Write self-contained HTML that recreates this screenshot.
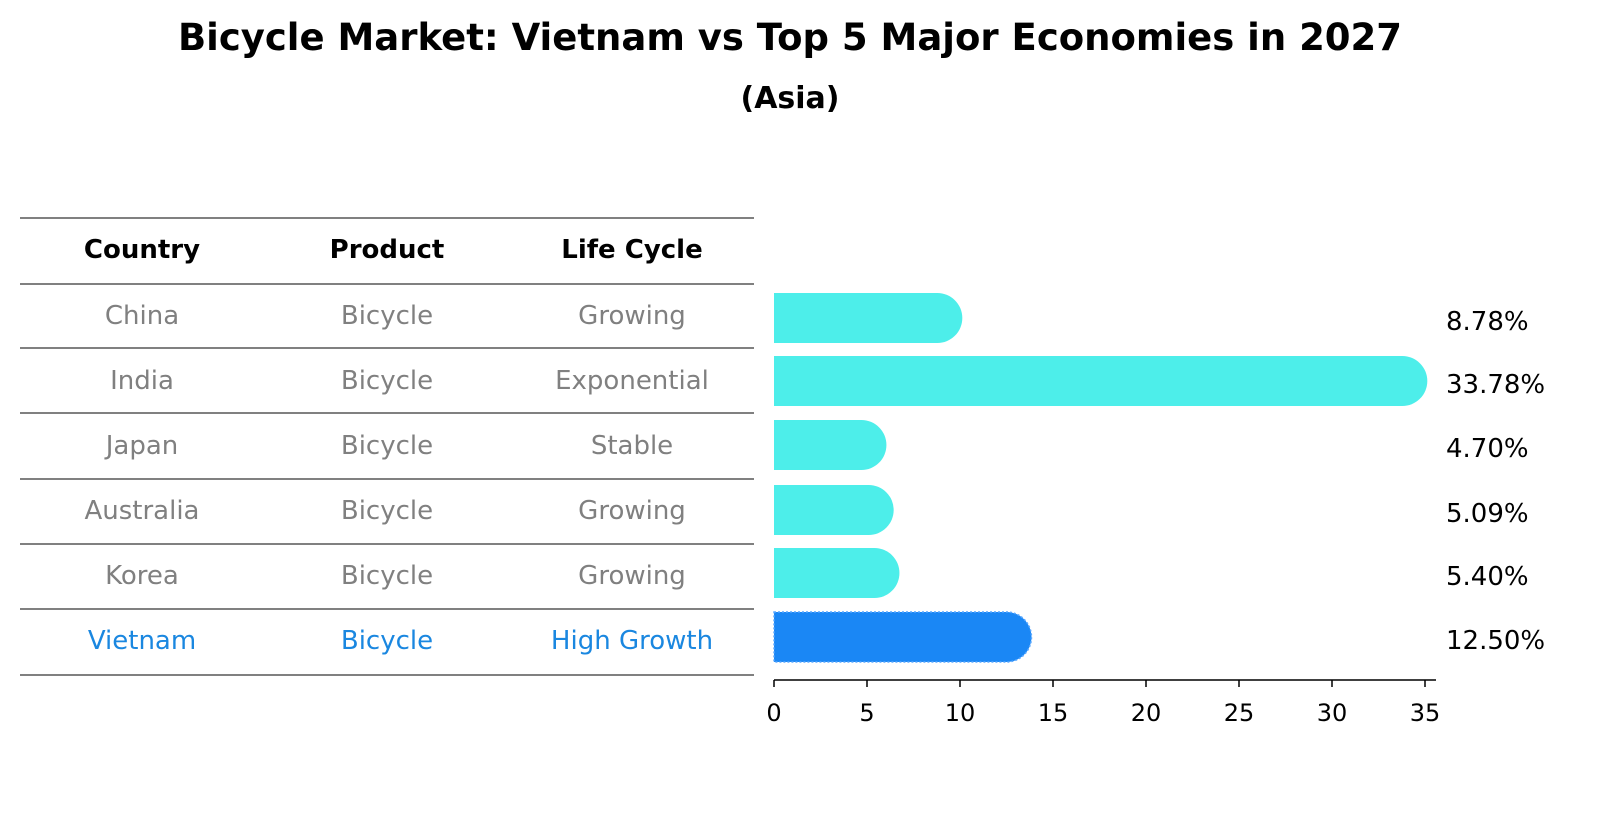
<!DOCTYPE html>
<html><head><meta charset="utf-8"><style>
body{margin:0;background:#fff;font-family:"DejaVu Sans","Liberation Sans",sans-serif;}
</style></head><body>
<svg width="1604" height="823" xmlns="http://www.w3.org/2000/svg" font-family="DejaVu Sans, Liberation Sans, sans-serif">
<text x="790" y="50" text-anchor="middle" font-size="37" font-weight="bold">Bicycle Market: Vietnam vs Top 5 Major Economies in 2027</text>
<text x="790" y="108" text-anchor="middle" font-size="30" font-weight="bold">(Asia)</text>
<g id="table"></g>
<g id="bars"></g>
</svg>
<script>
const countries=["China","India","Japan","Australia","Korea","Vietnam"];
const products=["Bicycle","Bicycle","Bicycle","Bicycle","Bicycle","Bicycle"];
const lifeCycles=["Growing","Exponential","Stable","Growing","Growing","High Growth"];
const values=[8.78,33.78,4.70,5.09,5.40,12.50];
const valueLabels=["8.78%","33.78%","4.70%","5.09%","5.40%","12.50%"];
const ticks=[0,5,10,15,20,25,30,35];
const NS="http://www.w3.org/2000/svg";
function mk(tag,attrs,parent,text){const e=document.createElementNS(NS,tag);for(const k in attrs)e.setAttribute(k,attrs[k]);if(text!==undefined)e.textContent=text;parent.appendChild(e);return e;}
const tbl=document.getElementById('table');
const lineYs=[218,284,348,413,479,544,609,675];
lineYs.forEach(y=>{const l=mk('line',{x1:20,x2:754,y1:y,y2:y,stroke:'#000','stroke-width':1},tbl);

});
const colX=[142,387,632];
["Country","Product","Life Cycle"].forEach((h,i)=>{const t=mk('text',{x:colX[i],y:258,'text-anchor':'middle','font-size':26,'font-weight':'bold'},tbl,h);

});
const rowCY=[315,380,445,510,575,640];
countries.forEach((c,i)=>{const col=c==="Vietnam"?'#1a87e0':'#808080';
[c,products[i],lifeCycles[i]].forEach((v,j)=>{const t=mk('text',{x:colX[j],y:rowCY[i]+9,'text-anchor':'middle','font-size':26,fill:col},tbl,v);

});});
const g=document.getElementById('bars');
const x0=774,ppu=18.6;
const xs=v=>x0+v*ppu;
const barCY=[318,381,445,510,573,637],bh=50;
values.forEach((v,i)=>{const isV=countries[i]==="Vietnam";const col=isV?'#1a87f5':'#4deeea';
const w=xs(v)-x0;
const p=mk('path',{d:`M${x0},${barCY[i]-bh/2} h${w} a${bh/2},${bh/2} 0 0 1 0,${bh} h${-w} Z`,fill:col},g);
if(isV){p.setAttribute('stroke','#5aa8ff');p.setAttribute('stroke-dasharray','2,2');p.setAttribute('stroke-width','1.5');}


const t=mk('text',{x:1446,y:barCY[i]+12,'font-size':26},g,valueLabels[i]);

});
const ax=mk('line',{x1:774,x2:1436,y1:680,y2:680,stroke:'#000','stroke-width':1.5},g);


ticks.forEach(tk=>{const x=xs(tk);
const l=mk('line',{x1:x,x2:x,y1:680,y2:687,stroke:'#000','stroke-width':1.5},g);


const t=mk('text',{x:x,y:721,'text-anchor':'middle','font-size':24},g,String(tk));

});
</script>
</body></html>
